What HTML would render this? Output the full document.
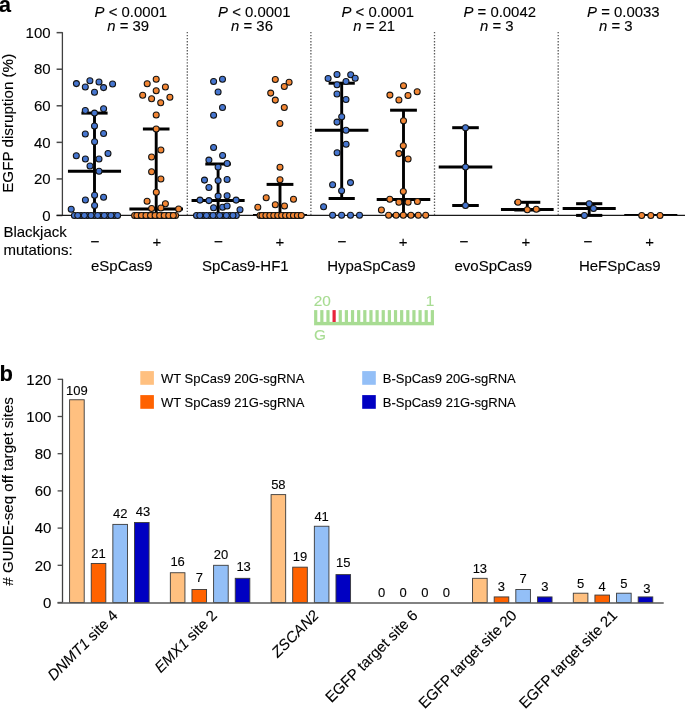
<!DOCTYPE html>
<html><head><meta charset="utf-8"><style>
html,body{margin:0;padding:0;background:#fff;}
body{width:685px;height:709px;overflow:hidden;font-family:"Liberation Sans",sans-serif;}
svg{display:block;will-change:transform;}
text{stroke:#000;stroke-width:0.12px;}
</style></head><body>
<svg width="685" height="709" viewBox="0 0 685 709">
<text x="-1.2" y="12" font-family="Liberation Sans" font-size="22" font-weight="bold">a</text>
<line x1="62.4" y1="32.15" x2="62.4" y2="215.5" stroke="#404040" stroke-width="1.3"/>
<line x1="56.6" y1="215.50" x2="62.4" y2="215.50" stroke="#4a4a4a" stroke-width="1.5"/>
<text x="50.6" y="220.70" font-family="Liberation Sans" font-size="15" text-anchor="end">0</text>
<line x1="56.6" y1="178.93" x2="62.4" y2="178.93" stroke="#4a4a4a" stroke-width="1.5"/>
<text x="50.6" y="184.13" font-family="Liberation Sans" font-size="15" text-anchor="end">20</text>
<line x1="56.6" y1="142.36" x2="62.4" y2="142.36" stroke="#4a4a4a" stroke-width="1.5"/>
<text x="50.6" y="147.56" font-family="Liberation Sans" font-size="15" text-anchor="end">40</text>
<line x1="56.6" y1="105.79" x2="62.4" y2="105.79" stroke="#4a4a4a" stroke-width="1.5"/>
<text x="50.6" y="110.99" font-family="Liberation Sans" font-size="15" text-anchor="end">60</text>
<line x1="56.6" y1="69.22" x2="62.4" y2="69.22" stroke="#4a4a4a" stroke-width="1.5"/>
<text x="50.6" y="74.42" font-family="Liberation Sans" font-size="15" text-anchor="end">80</text>
<line x1="56.6" y1="32.65" x2="62.4" y2="32.65" stroke="#4a4a4a" stroke-width="1.5"/>
<text x="50.6" y="37.85" font-family="Liberation Sans" font-size="15" text-anchor="end">100</text>
<line x1="56.6" y1="215.45" x2="685" y2="215.45" stroke="#1a1a1a" stroke-width="1.2"/>
<text transform="translate(12.6,123.3) rotate(-90)" font-family="Liberation Sans" font-size="15.2" text-anchor="middle">EGFP disruption (%)</text>
<line x1="187.3" y1="31.9" x2="187.3" y2="215.5" stroke="#5a5a5a" stroke-width="1.3" stroke-dasharray="1.4 1.63"/>
<line x1="310.9" y1="31.9" x2="310.9" y2="215.5" stroke="#5a5a5a" stroke-width="1.3" stroke-dasharray="1.4 1.63"/>
<line x1="434.5" y1="31.9" x2="434.5" y2="215.5" stroke="#5a5a5a" stroke-width="1.3" stroke-dasharray="1.4 1.63"/>
<line x1="558.2" y1="31.9" x2="558.2" y2="215.5" stroke="#5a5a5a" stroke-width="1.3" stroke-dasharray="1.4 1.63"/>
<text x="94.6" y="16.6" font-family="Liberation Sans" font-size="14.9"><tspan font-style="italic">P</tspan> &lt; 0.0001</text>
<text x="107.3" y="31.4" font-family="Liberation Sans" font-size="14.9"><tspan font-style="italic">n</tspan> = 39</text>
<text x="218.1" y="16.6" font-family="Liberation Sans" font-size="14.9"><tspan font-style="italic">P</tspan> &lt; 0.0001</text>
<text x="231.1" y="31.4" font-family="Liberation Sans" font-size="14.9"><tspan font-style="italic">n</tspan> = 36</text>
<text x="341.5" y="16.6" font-family="Liberation Sans" font-size="14.9"><tspan font-style="italic">P</tspan> &lt; 0.0001</text>
<text x="353.3" y="31.4" font-family="Liberation Sans" font-size="14.9"><tspan font-style="italic">n</tspan> = 21</text>
<text x="463.5" y="16.6" font-family="Liberation Sans" font-size="14.9"><tspan font-style="italic">P</tspan> = 0.0042</text>
<text x="480.0" y="31.4" font-family="Liberation Sans" font-size="14.9"><tspan font-style="italic">n</tspan> = 3</text>
<text x="587.1" y="16.6" font-family="Liberation Sans" font-size="14.9"><tspan font-style="italic">P</tspan> = 0.0033</text>
<text x="599.1" y="31.4" font-family="Liberation Sans" font-size="14.9"><tspan font-style="italic">n</tspan> = 3</text>
<line x1="94.5" y1="113.1" x2="94.5" y2="215.3" stroke="#000" stroke-width="2.9"/><line x1="81.4" y1="113.1" x2="107.6" y2="113.1" stroke="#000" stroke-width="3.0"/><line x1="81.4" y1="215.3" x2="107.6" y2="215.3" stroke="#000" stroke-width="3.0"/><line x1="67.95" y1="171.3" x2="121.05" y2="171.3" stroke="#000" stroke-width="3.0"/>
<line x1="156.2" y1="129.0" x2="156.2" y2="215.3" stroke="#000" stroke-width="2.9"/><line x1="142.89999999999998" y1="129.0" x2="169.5" y2="129.0" stroke="#000" stroke-width="3.0"/><line x1="142.89999999999998" y1="215.3" x2="169.5" y2="215.3" stroke="#000" stroke-width="3.0"/><line x1="129.39999999999998" y1="208.9" x2="183.0" y2="208.9" stroke="#000" stroke-width="3.0"/>
<line x1="218.1" y1="164.0" x2="218.1" y2="215.3" stroke="#000" stroke-width="2.9"/><line x1="205.29999999999998" y1="164.0" x2="230.9" y2="164.0" stroke="#000" stroke-width="3.0"/><line x1="205.29999999999998" y1="215.3" x2="230.9" y2="215.3" stroke="#000" stroke-width="3.0"/><line x1="191.54999999999998" y1="200.4" x2="244.65" y2="200.4" stroke="#000" stroke-width="3.0"/>
<line x1="280.0" y1="184.4" x2="280.0" y2="215.3" stroke="#000" stroke-width="2.9"/><line x1="266.6" y1="184.4" x2="293.4" y2="184.4" stroke="#000" stroke-width="3.0"/><line x1="266.6" y1="215.3" x2="293.4" y2="215.3" stroke="#000" stroke-width="3.0"/><line x1="253.0" y1="214.7" x2="307.0" y2="214.7" stroke="#000" stroke-width="1.6"/>
<line x1="341.7" y1="83.2" x2="341.7" y2="198.5" stroke="#000" stroke-width="2.9"/><line x1="328.59999999999997" y1="83.2" x2="354.8" y2="83.2" stroke="#000" stroke-width="3.0"/><line x1="328.59999999999997" y1="198.5" x2="354.8" y2="198.5" stroke="#000" stroke-width="3.0"/><line x1="315.0" y1="130.3" x2="368.4" y2="130.3" stroke="#000" stroke-width="3.0"/>
<line x1="403.5" y1="110.2" x2="403.5" y2="215.3" stroke="#000" stroke-width="2.9"/><line x1="390.1" y1="110.2" x2="416.9" y2="110.2" stroke="#000" stroke-width="3.0"/><line x1="390.1" y1="215.3" x2="416.9" y2="215.3" stroke="#000" stroke-width="3.0"/><line x1="376.7" y1="199.5" x2="430.3" y2="199.5" stroke="#000" stroke-width="3.0"/>
<line x1="465.5" y1="127.7" x2="465.5" y2="205.5" stroke="#000" stroke-width="2.9"/><line x1="452.2" y1="127.7" x2="478.8" y2="127.7" stroke="#000" stroke-width="3.0"/><line x1="452.2" y1="205.5" x2="478.8" y2="205.5" stroke="#000" stroke-width="3.0"/><line x1="438.7" y1="166.9" x2="492.3" y2="166.9" stroke="#000" stroke-width="3.0"/>
<line x1="527.3" y1="202.3" x2="527.3" y2="210.0" stroke="#000" stroke-width="2.9"/><line x1="514.3" y1="202.3" x2="540.3" y2="202.3" stroke="#000" stroke-width="3.0"/><line x1="514.3" y1="210.0" x2="540.3" y2="210.0" stroke="#000" stroke-width="3.0"/><line x1="500.94999999999993" y1="209.4" x2="553.65" y2="209.4" stroke="#000" stroke-width="3.0"/>
<line x1="589.2" y1="203.7" x2="589.2" y2="215.4" stroke="#000" stroke-width="2.9"/><line x1="576.1" y1="203.7" x2="602.3000000000001" y2="203.7" stroke="#000" stroke-width="3.0"/><line x1="576.1" y1="215.4" x2="602.3000000000001" y2="215.4" stroke="#000" stroke-width="3.0"/><line x1="562.6500000000001" y1="208.4" x2="615.75" y2="208.4" stroke="#000" stroke-width="3.0"/>
<line x1="650.8" y1="214.7" x2="650.8" y2="214.7" stroke="#000" stroke-width="2.9"/><line x1="650.8" y1="214.7" x2="650.8" y2="214.7" stroke="#000" stroke-width="3.0"/><line x1="650.8" y1="214.7" x2="650.8" y2="214.7" stroke="#000" stroke-width="3.0"/><line x1="624.25" y1="214.7" x2="677.3499999999999" y2="214.7" stroke="#000" stroke-width="1.6"/>
<circle cx="76.40" cy="83.60" r="3.0" fill="#4676d0" stroke="#141414" stroke-width="1.05"/><circle cx="85.30" cy="86.90" r="3.0" fill="#4676d0" stroke="#141414" stroke-width="1.05"/><circle cx="89.90" cy="80.70" r="3.0" fill="#4676d0" stroke="#141414" stroke-width="1.05"/><circle cx="94.50" cy="92.30" r="3.0" fill="#4676d0" stroke="#141414" stroke-width="1.05"/><circle cx="99.00" cy="82.00" r="3.0" fill="#4676d0" stroke="#141414" stroke-width="1.05"/><circle cx="103.60" cy="87.60" r="3.0" fill="#4676d0" stroke="#141414" stroke-width="1.05"/><circle cx="112.60" cy="84.00" r="3.0" fill="#4676d0" stroke="#141414" stroke-width="1.05"/><circle cx="85.30" cy="110.40" r="3.0" fill="#4676d0" stroke="#141414" stroke-width="1.05"/><circle cx="94.50" cy="113.10" r="3.0" fill="#4676d0" stroke="#141414" stroke-width="1.05"/><circle cx="103.60" cy="108.80" r="3.0" fill="#4676d0" stroke="#141414" stroke-width="1.05"/><circle cx="94.50" cy="126.00" r="3.0" fill="#4676d0" stroke="#141414" stroke-width="1.05"/><circle cx="85.30" cy="133.90" r="3.0" fill="#4676d0" stroke="#141414" stroke-width="1.05"/><circle cx="103.60" cy="133.40" r="3.0" fill="#4676d0" stroke="#141414" stroke-width="1.05"/><circle cx="94.60" cy="141.70" r="3.0" fill="#4676d0" stroke="#141414" stroke-width="1.05"/><circle cx="76.30" cy="155.80" r="3.0" fill="#4676d0" stroke="#141414" stroke-width="1.05"/><circle cx="85.40" cy="159.00" r="3.0" fill="#4676d0" stroke="#141414" stroke-width="1.05"/><circle cx="99.00" cy="159.00" r="3.0" fill="#4676d0" stroke="#141414" stroke-width="1.05"/><circle cx="108.00" cy="153.40" r="3.0" fill="#4676d0" stroke="#141414" stroke-width="1.05"/><circle cx="90.00" cy="166.00" r="3.0" fill="#4676d0" stroke="#141414" stroke-width="1.05"/><circle cx="99.00" cy="171.30" r="3.0" fill="#4676d0" stroke="#141414" stroke-width="1.05"/><circle cx="94.60" cy="195.20" r="3.0" fill="#4676d0" stroke="#141414" stroke-width="1.05"/><circle cx="103.60" cy="197.30" r="3.0" fill="#4676d0" stroke="#141414" stroke-width="1.05"/><circle cx="85.40" cy="199.90" r="3.0" fill="#4676d0" stroke="#141414" stroke-width="1.05"/><circle cx="94.60" cy="205.50" r="3.0" fill="#4676d0" stroke="#141414" stroke-width="1.05"/><circle cx="71.20" cy="209.30" r="3.0" fill="#4676d0" stroke="#141414" stroke-width="1.05"/><circle cx="74.40" cy="215.40" r="3.0" fill="#4676d0" stroke="#141414" stroke-width="1.05"/><circle cx="81.05" cy="215.40" r="3.0" fill="#4676d0" stroke="#141414" stroke-width="1.05"/><circle cx="87.69" cy="215.40" r="3.0" fill="#4676d0" stroke="#141414" stroke-width="1.05"/><circle cx="94.34" cy="215.40" r="3.0" fill="#4676d0" stroke="#141414" stroke-width="1.05"/><circle cx="100.98" cy="215.40" r="3.0" fill="#4676d0" stroke="#141414" stroke-width="1.05"/><circle cx="107.63" cy="215.40" r="3.0" fill="#4676d0" stroke="#141414" stroke-width="1.05"/><circle cx="114.28" cy="215.40" r="3.0" fill="#4676d0" stroke="#141414" stroke-width="1.05"/><circle cx="77.72" cy="215.40" r="3.0" fill="#4676d0" stroke="#141414" stroke-width="1.05"/><circle cx="84.37" cy="215.40" r="3.0" fill="#4676d0" stroke="#141414" stroke-width="1.05"/><circle cx="91.02" cy="215.40" r="3.0" fill="#4676d0" stroke="#141414" stroke-width="1.05"/><circle cx="97.66" cy="215.40" r="3.0" fill="#4676d0" stroke="#141414" stroke-width="1.05"/><circle cx="104.31" cy="215.40" r="3.0" fill="#4676d0" stroke="#141414" stroke-width="1.05"/><circle cx="110.95" cy="215.40" r="3.0" fill="#4676d0" stroke="#141414" stroke-width="1.05"/><circle cx="117.60" cy="215.40" r="3.0" fill="#4676d0" stroke="#141414" stroke-width="1.05"/>
<circle cx="156.20" cy="79.20" r="3.0" fill="#f28634" stroke="#141414" stroke-width="1.05"/><circle cx="147.20" cy="83.70" r="3.0" fill="#f28634" stroke="#141414" stroke-width="1.05"/><circle cx="165.40" cy="86.90" r="3.0" fill="#f28634" stroke="#141414" stroke-width="1.05"/><circle cx="156.20" cy="90.80" r="3.0" fill="#f28634" stroke="#141414" stroke-width="1.05"/><circle cx="142.70" cy="95.20" r="3.0" fill="#f28634" stroke="#141414" stroke-width="1.05"/><circle cx="151.60" cy="98.80" r="3.0" fill="#f28634" stroke="#141414" stroke-width="1.05"/><circle cx="169.90" cy="97.20" r="3.0" fill="#f28634" stroke="#141414" stroke-width="1.05"/><circle cx="160.70" cy="102.80" r="3.0" fill="#f28634" stroke="#141414" stroke-width="1.05"/><circle cx="156.20" cy="114.90" r="3.0" fill="#f28634" stroke="#141414" stroke-width="1.05"/><circle cx="156.20" cy="129.00" r="3.0" fill="#f28634" stroke="#141414" stroke-width="1.05"/><circle cx="160.90" cy="149.90" r="3.0" fill="#f28634" stroke="#141414" stroke-width="1.05"/><circle cx="151.60" cy="156.90" r="3.0" fill="#f28634" stroke="#141414" stroke-width="1.05"/><circle cx="151.60" cy="171.80" r="3.0" fill="#f28634" stroke="#141414" stroke-width="1.05"/><circle cx="160.90" cy="179.00" r="3.0" fill="#f28634" stroke="#141414" stroke-width="1.05"/><circle cx="156.30" cy="192.20" r="3.0" fill="#f28634" stroke="#141414" stroke-width="1.05"/><circle cx="147.10" cy="201.30" r="3.0" fill="#f28634" stroke="#141414" stroke-width="1.05"/><circle cx="165.40" cy="203.80" r="3.0" fill="#f28634" stroke="#141414" stroke-width="1.05"/><circle cx="151.60" cy="208.50" r="3.0" fill="#f28634" stroke="#141414" stroke-width="1.05"/><circle cx="160.90" cy="208.00" r="3.0" fill="#f28634" stroke="#141414" stroke-width="1.05"/><circle cx="178.60" cy="208.90" r="3.0" fill="#f28634" stroke="#141414" stroke-width="1.05"/><circle cx="134.60" cy="215.40" r="3.0" fill="#f28634" stroke="#141414" stroke-width="1.05"/><circle cx="139.16" cy="215.40" r="3.0" fill="#f28634" stroke="#141414" stroke-width="1.05"/><circle cx="143.71" cy="215.40" r="3.0" fill="#f28634" stroke="#141414" stroke-width="1.05"/><circle cx="148.27" cy="215.40" r="3.0" fill="#f28634" stroke="#141414" stroke-width="1.05"/><circle cx="152.82" cy="215.40" r="3.0" fill="#f28634" stroke="#141414" stroke-width="1.05"/><circle cx="157.38" cy="215.40" r="3.0" fill="#f28634" stroke="#141414" stroke-width="1.05"/><circle cx="161.93" cy="215.40" r="3.0" fill="#f28634" stroke="#141414" stroke-width="1.05"/><circle cx="166.49" cy="215.40" r="3.0" fill="#f28634" stroke="#141414" stroke-width="1.05"/><circle cx="171.04" cy="215.40" r="3.0" fill="#f28634" stroke="#141414" stroke-width="1.05"/><circle cx="175.60" cy="215.40" r="3.0" fill="#f28634" stroke="#141414" stroke-width="1.05"/><circle cx="136.88" cy="215.40" r="3.0" fill="#f28634" stroke="#141414" stroke-width="1.05"/><circle cx="141.43" cy="215.40" r="3.0" fill="#f28634" stroke="#141414" stroke-width="1.05"/><circle cx="145.99" cy="215.40" r="3.0" fill="#f28634" stroke="#141414" stroke-width="1.05"/><circle cx="150.54" cy="215.40" r="3.0" fill="#f28634" stroke="#141414" stroke-width="1.05"/><circle cx="155.10" cy="215.40" r="3.0" fill="#f28634" stroke="#141414" stroke-width="1.05"/><circle cx="159.66" cy="215.40" r="3.0" fill="#f28634" stroke="#141414" stroke-width="1.05"/><circle cx="164.21" cy="215.40" r="3.0" fill="#f28634" stroke="#141414" stroke-width="1.05"/><circle cx="168.77" cy="215.40" r="3.0" fill="#f28634" stroke="#141414" stroke-width="1.05"/><circle cx="173.32" cy="215.40" r="3.0" fill="#f28634" stroke="#141414" stroke-width="1.05"/>
<circle cx="213.60" cy="81.40" r="3.0" fill="#4676d0" stroke="#141414" stroke-width="1.05"/><circle cx="222.50" cy="79.20" r="3.0" fill="#4676d0" stroke="#141414" stroke-width="1.05"/><circle cx="218.10" cy="92.00" r="3.0" fill="#4676d0" stroke="#141414" stroke-width="1.05"/><circle cx="222.50" cy="107.50" r="3.0" fill="#4676d0" stroke="#141414" stroke-width="1.05"/><circle cx="213.60" cy="115.30" r="3.0" fill="#4676d0" stroke="#141414" stroke-width="1.05"/><circle cx="213.60" cy="147.50" r="3.0" fill="#4676d0" stroke="#141414" stroke-width="1.05"/><circle cx="222.60" cy="155.50" r="3.0" fill="#4676d0" stroke="#141414" stroke-width="1.05"/><circle cx="208.90" cy="160.10" r="3.0" fill="#4676d0" stroke="#141414" stroke-width="1.05"/><circle cx="227.10" cy="163.50" r="3.0" fill="#4676d0" stroke="#141414" stroke-width="1.05"/><circle cx="218.10" cy="167.10" r="3.0" fill="#4676d0" stroke="#141414" stroke-width="1.05"/><circle cx="204.50" cy="180.10" r="3.0" fill="#4676d0" stroke="#141414" stroke-width="1.05"/><circle cx="218.10" cy="180.60" r="3.0" fill="#4676d0" stroke="#141414" stroke-width="1.05"/><circle cx="227.10" cy="179.50" r="3.0" fill="#4676d0" stroke="#141414" stroke-width="1.05"/><circle cx="208.90" cy="187.40" r="3.0" fill="#4676d0" stroke="#141414" stroke-width="1.05"/><circle cx="218.10" cy="196.10" r="3.0" fill="#4676d0" stroke="#141414" stroke-width="1.05"/><circle cx="227.10" cy="195.70" r="3.0" fill="#4676d0" stroke="#141414" stroke-width="1.05"/><circle cx="200.00" cy="200.10" r="3.0" fill="#4676d0" stroke="#141414" stroke-width="1.05"/><circle cx="208.90" cy="200.60" r="3.0" fill="#4676d0" stroke="#141414" stroke-width="1.05"/><circle cx="236.10" cy="200.10" r="3.0" fill="#4676d0" stroke="#141414" stroke-width="1.05"/><circle cx="213.60" cy="207.70" r="3.0" fill="#4676d0" stroke="#141414" stroke-width="1.05"/><circle cx="222.60" cy="207.20" r="3.0" fill="#4676d0" stroke="#141414" stroke-width="1.05"/><circle cx="227.10" cy="206.00" r="3.0" fill="#4676d0" stroke="#141414" stroke-width="1.05"/><circle cx="240.00" cy="209.70" r="3.0" fill="#4676d0" stroke="#141414" stroke-width="1.05"/><circle cx="196.50" cy="215.40" r="3.0" fill="#4676d0" stroke="#141414" stroke-width="1.05"/><circle cx="203.13" cy="215.40" r="3.0" fill="#4676d0" stroke="#141414" stroke-width="1.05"/><circle cx="209.77" cy="215.40" r="3.0" fill="#4676d0" stroke="#141414" stroke-width="1.05"/><circle cx="216.40" cy="215.40" r="3.0" fill="#4676d0" stroke="#141414" stroke-width="1.05"/><circle cx="223.03" cy="215.40" r="3.0" fill="#4676d0" stroke="#141414" stroke-width="1.05"/><circle cx="229.67" cy="215.40" r="3.0" fill="#4676d0" stroke="#141414" stroke-width="1.05"/><circle cx="236.30" cy="215.40" r="3.0" fill="#4676d0" stroke="#141414" stroke-width="1.05"/><circle cx="199.82" cy="215.40" r="3.0" fill="#4676d0" stroke="#141414" stroke-width="1.05"/><circle cx="206.45" cy="215.40" r="3.0" fill="#4676d0" stroke="#141414" stroke-width="1.05"/><circle cx="213.08" cy="215.40" r="3.0" fill="#4676d0" stroke="#141414" stroke-width="1.05"/><circle cx="219.72" cy="215.40" r="3.0" fill="#4676d0" stroke="#141414" stroke-width="1.05"/><circle cx="226.35" cy="215.40" r="3.0" fill="#4676d0" stroke="#141414" stroke-width="1.05"/><circle cx="232.98" cy="215.40" r="3.0" fill="#4676d0" stroke="#141414" stroke-width="1.05"/>
<circle cx="275.30" cy="79.50" r="3.0" fill="#f28634" stroke="#141414" stroke-width="1.05"/><circle cx="289.10" cy="82.20" r="3.0" fill="#f28634" stroke="#141414" stroke-width="1.05"/><circle cx="284.30" cy="86.40" r="3.0" fill="#f28634" stroke="#141414" stroke-width="1.05"/><circle cx="270.70" cy="93.10" r="3.0" fill="#f28634" stroke="#141414" stroke-width="1.05"/><circle cx="275.30" cy="100.10" r="3.0" fill="#f28634" stroke="#141414" stroke-width="1.05"/><circle cx="284.30" cy="107.50" r="3.0" fill="#f28634" stroke="#141414" stroke-width="1.05"/><circle cx="279.90" cy="123.40" r="3.0" fill="#f28634" stroke="#141414" stroke-width="1.05"/><circle cx="280.00" cy="167.30" r="3.0" fill="#f28634" stroke="#141414" stroke-width="1.05"/><circle cx="280.00" cy="179.70" r="3.0" fill="#f28634" stroke="#141414" stroke-width="1.05"/><circle cx="266.20" cy="197.80" r="3.0" fill="#f28634" stroke="#141414" stroke-width="1.05"/><circle cx="293.50" cy="199.30" r="3.0" fill="#f28634" stroke="#141414" stroke-width="1.05"/><circle cx="257.80" cy="207.20" r="3.0" fill="#f28634" stroke="#141414" stroke-width="1.05"/><circle cx="275.30" cy="204.70" r="3.0" fill="#f28634" stroke="#141414" stroke-width="1.05"/><circle cx="284.50" cy="206.00" r="3.0" fill="#f28634" stroke="#141414" stroke-width="1.05"/><circle cx="260.00" cy="215.40" r="3.0" fill="#f28634" stroke="#141414" stroke-width="1.05"/><circle cx="263.93" cy="215.40" r="3.0" fill="#f28634" stroke="#141414" stroke-width="1.05"/><circle cx="267.87" cy="215.40" r="3.0" fill="#f28634" stroke="#141414" stroke-width="1.05"/><circle cx="271.80" cy="215.40" r="3.0" fill="#f28634" stroke="#141414" stroke-width="1.05"/><circle cx="275.73" cy="215.40" r="3.0" fill="#f28634" stroke="#141414" stroke-width="1.05"/><circle cx="279.67" cy="215.40" r="3.0" fill="#f28634" stroke="#141414" stroke-width="1.05"/><circle cx="283.60" cy="215.40" r="3.0" fill="#f28634" stroke="#141414" stroke-width="1.05"/><circle cx="287.53" cy="215.40" r="3.0" fill="#f28634" stroke="#141414" stroke-width="1.05"/><circle cx="291.47" cy="215.40" r="3.0" fill="#f28634" stroke="#141414" stroke-width="1.05"/><circle cx="295.40" cy="215.40" r="3.0" fill="#f28634" stroke="#141414" stroke-width="1.05"/><circle cx="299.33" cy="215.40" r="3.0" fill="#f28634" stroke="#141414" stroke-width="1.05"/><circle cx="261.97" cy="215.40" r="3.0" fill="#f28634" stroke="#141414" stroke-width="1.05"/><circle cx="265.90" cy="215.40" r="3.0" fill="#f28634" stroke="#141414" stroke-width="1.05"/><circle cx="269.83" cy="215.40" r="3.0" fill="#f28634" stroke="#141414" stroke-width="1.05"/><circle cx="273.77" cy="215.40" r="3.0" fill="#f28634" stroke="#141414" stroke-width="1.05"/><circle cx="277.70" cy="215.40" r="3.0" fill="#f28634" stroke="#141414" stroke-width="1.05"/><circle cx="281.63" cy="215.40" r="3.0" fill="#f28634" stroke="#141414" stroke-width="1.05"/><circle cx="285.57" cy="215.40" r="3.0" fill="#f28634" stroke="#141414" stroke-width="1.05"/><circle cx="289.50" cy="215.40" r="3.0" fill="#f28634" stroke="#141414" stroke-width="1.05"/><circle cx="293.43" cy="215.40" r="3.0" fill="#f28634" stroke="#141414" stroke-width="1.05"/><circle cx="297.37" cy="215.40" r="3.0" fill="#f28634" stroke="#141414" stroke-width="1.05"/><circle cx="301.30" cy="215.40" r="3.0" fill="#f28634" stroke="#141414" stroke-width="1.05"/>
<circle cx="337.00" cy="74.50" r="3.0" fill="#4676d0" stroke="#141414" stroke-width="1.05"/><circle cx="350.70" cy="74.80" r="3.0" fill="#4676d0" stroke="#141414" stroke-width="1.05"/><circle cx="328.10" cy="78.50" r="3.0" fill="#4676d0" stroke="#141414" stroke-width="1.05"/><circle cx="355.20" cy="78.20" r="3.0" fill="#4676d0" stroke="#141414" stroke-width="1.05"/><circle cx="346.00" cy="81.40" r="3.0" fill="#4676d0" stroke="#141414" stroke-width="1.05"/><circle cx="337.00" cy="84.80" r="3.0" fill="#4676d0" stroke="#141414" stroke-width="1.05"/><circle cx="337.00" cy="93.90" r="3.0" fill="#4676d0" stroke="#141414" stroke-width="1.05"/><circle cx="346.00" cy="99.40" r="3.0" fill="#4676d0" stroke="#141414" stroke-width="1.05"/><circle cx="341.70" cy="116.80" r="3.0" fill="#4676d0" stroke="#141414" stroke-width="1.05"/><circle cx="337.00" cy="122.10" r="3.0" fill="#4676d0" stroke="#141414" stroke-width="1.05"/><circle cx="346.00" cy="130.30" r="3.0" fill="#4676d0" stroke="#141414" stroke-width="1.05"/><circle cx="346.10" cy="144.30" r="3.0" fill="#4676d0" stroke="#141414" stroke-width="1.05"/><circle cx="337.10" cy="152.70" r="3.0" fill="#4676d0" stroke="#141414" stroke-width="1.05"/><circle cx="332.60" cy="184.70" r="3.0" fill="#4676d0" stroke="#141414" stroke-width="1.05"/><circle cx="350.50" cy="182.60" r="3.0" fill="#4676d0" stroke="#141414" stroke-width="1.05"/><circle cx="341.60" cy="190.70" r="3.0" fill="#4676d0" stroke="#141414" stroke-width="1.05"/><circle cx="323.60" cy="206.70" r="3.0" fill="#4676d0" stroke="#141414" stroke-width="1.05"/><circle cx="332.60" cy="215.30" r="3.0" fill="#4676d0" stroke="#141414" stroke-width="1.05"/><circle cx="341.60" cy="215.30" r="3.0" fill="#4676d0" stroke="#141414" stroke-width="1.05"/><circle cx="350.50" cy="215.30" r="3.0" fill="#4676d0" stroke="#141414" stroke-width="1.05"/><circle cx="359.50" cy="215.30" r="3.0" fill="#4676d0" stroke="#141414" stroke-width="1.05"/>
<circle cx="403.50" cy="85.80" r="3.0" fill="#f28634" stroke="#141414" stroke-width="1.05"/><circle cx="389.90" cy="95.10" r="3.0" fill="#f28634" stroke="#141414" stroke-width="1.05"/><circle cx="398.90" cy="100.00" r="3.0" fill="#f28634" stroke="#141414" stroke-width="1.05"/><circle cx="408.00" cy="95.40" r="3.0" fill="#f28634" stroke="#141414" stroke-width="1.05"/><circle cx="417.20" cy="91.80" r="3.0" fill="#f28634" stroke="#141414" stroke-width="1.05"/><circle cx="403.50" cy="120.80" r="3.0" fill="#f28634" stroke="#141414" stroke-width="1.05"/><circle cx="403.30" cy="145.80" r="3.0" fill="#f28634" stroke="#141414" stroke-width="1.05"/><circle cx="398.90" cy="153.60" r="3.0" fill="#f28634" stroke="#141414" stroke-width="1.05"/><circle cx="408.10" cy="159.00" r="3.0" fill="#f28634" stroke="#141414" stroke-width="1.05"/><circle cx="403.30" cy="191.50" r="3.0" fill="#f28634" stroke="#141414" stroke-width="1.05"/><circle cx="389.80" cy="199.30" r="3.0" fill="#f28634" stroke="#141414" stroke-width="1.05"/><circle cx="398.90" cy="202.30" r="3.0" fill="#f28634" stroke="#141414" stroke-width="1.05"/><circle cx="408.10" cy="202.30" r="3.0" fill="#f28634" stroke="#141414" stroke-width="1.05"/><circle cx="417.40" cy="201.50" r="3.0" fill="#f28634" stroke="#141414" stroke-width="1.05"/><circle cx="381.40" cy="209.90" r="3.0" fill="#f28634" stroke="#141414" stroke-width="1.05"/><circle cx="388.60" cy="215.30" r="3.0" fill="#f28634" stroke="#141414" stroke-width="1.05"/><circle cx="396.10" cy="215.30" r="3.0" fill="#f28634" stroke="#141414" stroke-width="1.05"/><circle cx="403.30" cy="215.30" r="3.0" fill="#f28634" stroke="#141414" stroke-width="1.05"/><circle cx="410.90" cy="215.30" r="3.0" fill="#f28634" stroke="#141414" stroke-width="1.05"/><circle cx="418.30" cy="215.30" r="3.0" fill="#f28634" stroke="#141414" stroke-width="1.05"/><circle cx="425.70" cy="215.30" r="3.0" fill="#f28634" stroke="#141414" stroke-width="1.05"/>
<circle cx="465.50" cy="127.70" r="3.0" fill="#4676d0" stroke="#141414" stroke-width="1.05"/><circle cx="465.50" cy="166.90" r="3.0" fill="#4676d0" stroke="#141414" stroke-width="1.05"/><circle cx="465.50" cy="205.50" r="3.0" fill="#4676d0" stroke="#141414" stroke-width="1.05"/>
<circle cx="518.00" cy="202.30" r="3.0" fill="#f28634" stroke="#141414" stroke-width="1.05"/><circle cx="527.30" cy="209.70" r="3.0" fill="#f28634" stroke="#141414" stroke-width="1.05"/><circle cx="536.30" cy="209.20" r="3.0" fill="#f28634" stroke="#141414" stroke-width="1.05"/>
<circle cx="589.20" cy="203.70" r="3.0" fill="#4676d0" stroke="#141414" stroke-width="1.05"/><circle cx="593.50" cy="208.40" r="3.0" fill="#4676d0" stroke="#141414" stroke-width="1.05"/><circle cx="584.40" cy="215.40" r="3.0" fill="#4676d0" stroke="#141414" stroke-width="1.05"/>
<circle cx="641.70" cy="215.40" r="3.0" fill="#f28634" stroke="#141414" stroke-width="1.05"/><circle cx="650.80" cy="215.40" r="3.0" fill="#f28634" stroke="#141414" stroke-width="1.05"/><circle cx="660.00" cy="215.40" r="3.0" fill="#f28634" stroke="#141414" stroke-width="1.05"/>
<text x="3.4" y="236.5" font-family="Liberation Sans" font-size="15">Blackjack</text>
<text x="3.4" y="255.0" font-family="Liberation Sans" font-size="15">mutations:</text>
<text x="94.7" y="246.7" font-family="Liberation Sans" font-size="15.5" text-anchor="middle">−</text>
<text x="218.3" y="246.7" font-family="Liberation Sans" font-size="15.5" text-anchor="middle">−</text>
<text x="341.8" y="246.7" font-family="Liberation Sans" font-size="15.5" text-anchor="middle">−</text>
<text x="463.9" y="246.7" font-family="Liberation Sans" font-size="15.5" text-anchor="middle">−</text>
<text x="587.9" y="246.7" font-family="Liberation Sans" font-size="15.5" text-anchor="middle">−</text>
<text x="157.0" y="246.5" font-family="Liberation Sans" font-size="15" text-anchor="middle">+</text>
<text x="279.8" y="246.5" font-family="Liberation Sans" font-size="15" text-anchor="middle">+</text>
<text x="403.2" y="246.5" font-family="Liberation Sans" font-size="15" text-anchor="middle">+</text>
<text x="525.9" y="246.5" font-family="Liberation Sans" font-size="15" text-anchor="middle">+</text>
<text x="649.7" y="246.5" font-family="Liberation Sans" font-size="15" text-anchor="middle">+</text>
<text x="91.0" y="271.0" font-family="Liberation Sans" font-size="15">eSpCas9</text>
<text x="202.0" y="271.0" font-family="Liberation Sans" font-size="15">SpCas9-HF1</text>
<text x="327.2" y="271.0" font-family="Liberation Sans" font-size="15">HypaSpCas9</text>
<text x="454.5" y="271.0" font-family="Liberation Sans" font-size="15">evoSpCas9</text>
<text x="578.9" y="271.0" font-family="Liberation Sans" font-size="15">HeFSpCas9</text>
<text x="313.7" y="305.8" font-family="Liberation Sans" font-size="15.4" fill="#a8dc93" stroke="#a8dc93" style="stroke:#a8dc93">20</text>
<text x="434.4" y="305.8" font-family="Liberation Sans" font-size="15.4" fill="#a8dc93" stroke="#a8dc93" style="stroke:#a8dc93" text-anchor="end">1</text>
<text x="313.9" y="340.4" font-family="Liberation Sans" font-size="15.4" fill="#a8dc93" stroke="#a8dc93" style="stroke:#a8dc93">G</text>
<rect x="314.1" y="321.9" width="119.9" height="3.4" fill="#a8dc93"/>
<rect x="314.10" y="310.1" width="3.2" height="11.9" fill="#a8dc93"/>
<rect x="320.24" y="310.1" width="3.2" height="11.9" fill="#a8dc93"/>
<rect x="326.38" y="310.1" width="3.2" height="11.9" fill="#a8dc93"/>
<rect x="332.52" y="310.1" width="3.2" height="11.9" fill="#e8243c"/>
<rect x="338.66" y="310.1" width="3.2" height="11.9" fill="#a8dc93"/>
<rect x="344.80" y="310.1" width="3.2" height="11.9" fill="#a8dc93"/>
<rect x="350.94" y="310.1" width="3.2" height="11.9" fill="#a8dc93"/>
<rect x="357.08" y="310.1" width="3.2" height="11.9" fill="#a8dc93"/>
<rect x="363.22" y="310.1" width="3.2" height="11.9" fill="#a8dc93"/>
<rect x="369.36" y="310.1" width="3.2" height="11.9" fill="#a8dc93"/>
<rect x="375.50" y="310.1" width="3.2" height="11.9" fill="#a8dc93"/>
<rect x="381.64" y="310.1" width="3.2" height="11.9" fill="#a8dc93"/>
<rect x="387.78" y="310.1" width="3.2" height="11.9" fill="#a8dc93"/>
<rect x="393.92" y="310.1" width="3.2" height="11.9" fill="#a8dc93"/>
<rect x="400.06" y="310.1" width="3.2" height="11.9" fill="#a8dc93"/>
<rect x="406.20" y="310.1" width="3.2" height="11.9" fill="#a8dc93"/>
<rect x="412.34" y="310.1" width="3.2" height="11.9" fill="#a8dc93"/>
<rect x="418.48" y="310.1" width="3.2" height="11.9" fill="#a8dc93"/>
<rect x="424.62" y="310.1" width="3.2" height="11.9" fill="#a8dc93"/>
<rect x="430.76" y="310.1" width="3.2" height="11.9" fill="#a8dc93"/>
<text x="-0.4" y="381.2" font-family="Liberation Sans" font-size="22" font-weight="bold">b</text>
<line x1="62.5" y1="378.8" x2="62.5" y2="602.5" stroke="#404040" stroke-width="1.3"/>
<line x1="57.6" y1="602.50" x2="62.5" y2="602.50" stroke="#4a4a4a" stroke-width="1.3"/>
<text x="51.4" y="607.70" font-family="Liberation Sans" font-size="15" text-anchor="end">0</text>
<line x1="57.6" y1="565.30" x2="62.5" y2="565.30" stroke="#4a4a4a" stroke-width="1.3"/>
<text x="51.4" y="570.50" font-family="Liberation Sans" font-size="15" text-anchor="end">20</text>
<line x1="57.6" y1="528.10" x2="62.5" y2="528.10" stroke="#4a4a4a" stroke-width="1.3"/>
<text x="51.4" y="533.30" font-family="Liberation Sans" font-size="15" text-anchor="end">40</text>
<line x1="57.6" y1="490.90" x2="62.5" y2="490.90" stroke="#4a4a4a" stroke-width="1.3"/>
<text x="51.4" y="496.10" font-family="Liberation Sans" font-size="15" text-anchor="end">60</text>
<line x1="57.6" y1="453.70" x2="62.5" y2="453.70" stroke="#4a4a4a" stroke-width="1.3"/>
<text x="51.4" y="458.90" font-family="Liberation Sans" font-size="15" text-anchor="end">80</text>
<line x1="57.6" y1="416.50" x2="62.5" y2="416.50" stroke="#4a4a4a" stroke-width="1.3"/>
<text x="51.4" y="421.70" font-family="Liberation Sans" font-size="15" text-anchor="end">100</text>
<line x1="57.6" y1="379.30" x2="62.5" y2="379.30" stroke="#4a4a4a" stroke-width="1.3"/>
<text x="51.4" y="384.50" font-family="Liberation Sans" font-size="15" text-anchor="end">120</text>
<text transform="translate(12.9,491.4) rotate(-90)" font-family="Liberation Sans" font-size="15.1" text-anchor="middle"># GUIDE-seq off target sites</text>
<rect x="69.60" y="399.76" width="14.6" height="202.74" fill="#ffc080" stroke="#3a3a3a" stroke-width="0.9"/>
<text x="76.90" y="394.90" font-family="Liberation Sans" font-size="13" text-anchor="middle">109</text>
<rect x="91.23" y="563.44" width="14.6" height="39.06" fill="#ff6200" stroke="#3a3a3a" stroke-width="0.9"/>
<text x="98.53" y="557.90" font-family="Liberation Sans" font-size="13" text-anchor="middle">21</text>
<rect x="112.86" y="524.38" width="14.6" height="78.12" fill="#93bff7" stroke="#3a3a3a" stroke-width="0.9"/>
<text x="120.16" y="517.60" font-family="Liberation Sans" font-size="13" text-anchor="middle">42</text>
<rect x="134.49" y="522.52" width="14.6" height="79.98" fill="#0000c2" stroke="#3a3a3a" stroke-width="0.9"/>
<text x="143.09" y="515.70" font-family="Liberation Sans" font-size="13" text-anchor="middle">43</text>
<rect x="170.34" y="572.74" width="14.6" height="29.76" fill="#ffc080" stroke="#3a3a3a" stroke-width="0.9"/>
<text x="177.64" y="566.00" font-family="Liberation Sans" font-size="13" text-anchor="middle">16</text>
<rect x="191.97" y="589.48" width="14.6" height="13.02" fill="#ff6200" stroke="#3a3a3a" stroke-width="0.9"/>
<text x="199.27" y="581.80" font-family="Liberation Sans" font-size="13" text-anchor="middle">7</text>
<rect x="213.60" y="565.30" width="14.6" height="37.20" fill="#93bff7" stroke="#3a3a3a" stroke-width="0.9"/>
<text x="220.90" y="558.50" font-family="Liberation Sans" font-size="13" text-anchor="middle">20</text>
<rect x="235.23" y="578.32" width="14.6" height="24.18" fill="#0000c2" stroke="#3a3a3a" stroke-width="0.9"/>
<text x="243.63" y="570.60" font-family="Liberation Sans" font-size="13" text-anchor="middle">13</text>
<rect x="271.08" y="494.62" width="14.6" height="107.88" fill="#ffc080" stroke="#3a3a3a" stroke-width="0.9"/>
<text x="278.38" y="488.80" font-family="Liberation Sans" font-size="13" text-anchor="middle">58</text>
<rect x="292.71" y="567.16" width="14.6" height="35.34" fill="#ff6200" stroke="#3a3a3a" stroke-width="0.9"/>
<text x="300.01" y="561.00" font-family="Liberation Sans" font-size="13" text-anchor="middle">19</text>
<rect x="314.34" y="526.24" width="14.6" height="76.26" fill="#93bff7" stroke="#3a3a3a" stroke-width="0.9"/>
<text x="321.64" y="520.50" font-family="Liberation Sans" font-size="13" text-anchor="middle">41</text>
<rect x="335.97" y="574.60" width="14.6" height="27.90" fill="#0000c2" stroke="#3a3a3a" stroke-width="0.9"/>
<text x="343.27" y="567.40" font-family="Liberation Sans" font-size="13" text-anchor="middle">15</text>
<text x="381.52" y="597.20" font-family="Liberation Sans" font-size="13" text-anchor="middle">0</text>
<text x="403.15" y="597.20" font-family="Liberation Sans" font-size="13" text-anchor="middle">0</text>
<text x="424.78" y="597.20" font-family="Liberation Sans" font-size="13" text-anchor="middle">0</text>
<text x="446.41" y="597.20" font-family="Liberation Sans" font-size="13" text-anchor="middle">0</text>
<rect x="472.56" y="578.32" width="14.6" height="24.18" fill="#ffc080" stroke="#3a3a3a" stroke-width="0.9"/>
<text x="479.86" y="572.80" font-family="Liberation Sans" font-size="13" text-anchor="middle">13</text>
<rect x="494.19" y="596.92" width="14.6" height="5.58" fill="#ff6200" stroke="#3a3a3a" stroke-width="0.9"/>
<text x="501.49" y="590.80" font-family="Liberation Sans" font-size="13" text-anchor="middle">3</text>
<rect x="515.82" y="589.48" width="14.6" height="13.02" fill="#93bff7" stroke="#3a3a3a" stroke-width="0.9"/>
<text x="523.12" y="583.20" font-family="Liberation Sans" font-size="13" text-anchor="middle">7</text>
<rect x="537.45" y="596.92" width="14.6" height="5.58" fill="#0000c2" stroke="#3a3a3a" stroke-width="0.9"/>
<text x="544.75" y="590.80" font-family="Liberation Sans" font-size="13" text-anchor="middle">3</text>
<rect x="573.30" y="593.20" width="14.6" height="9.30" fill="#ffc080" stroke="#3a3a3a" stroke-width="0.9"/>
<text x="580.60" y="588.40" font-family="Liberation Sans" font-size="13" text-anchor="middle">5</text>
<rect x="594.93" y="595.06" width="14.6" height="7.44" fill="#ff6200" stroke="#3a3a3a" stroke-width="0.9"/>
<text x="602.23" y="591.00" font-family="Liberation Sans" font-size="13" text-anchor="middle">4</text>
<rect x="616.56" y="593.20" width="14.6" height="9.30" fill="#93bff7" stroke="#3a3a3a" stroke-width="0.9"/>
<text x="623.86" y="588.40" font-family="Liberation Sans" font-size="13" text-anchor="middle">5</text>
<rect x="638.19" y="596.92" width="14.6" height="5.58" fill="#0000c2" stroke="#3a3a3a" stroke-width="0.9"/>
<text x="646.99" y="593.00" font-family="Liberation Sans" font-size="13" text-anchor="middle">3</text>
<line x1="57.5" y1="602.95" x2="663.7" y2="602.95" stroke="#595959" stroke-width="1.6"/>
<rect x="140.3" y="371.1" width="13.6" height="13.7" fill="#ffc080"/>
<text x="160.9" y="383.1" font-family="Liberation Sans" font-size="13">WT SpCas9 20G-sgRNA</text>
<rect x="140.3" y="395.1" width="13.6" height="13.7" fill="#ff6200"/>
<text x="160.9" y="407.1" font-family="Liberation Sans" font-size="13">WT SpCas9 21G-sgRNA</text>
<rect x="362.2" y="371.1" width="13.6" height="13.7" fill="#93bff7"/>
<text x="382.8" y="383.1" font-family="Liberation Sans" font-size="13">B-SpCas9 20G-sgRNA</text>
<rect x="362.2" y="395.1" width="13.6" height="13.7" fill="#0000c2"/>
<text x="382.8" y="407.1" font-family="Liberation Sans" font-size="13">B-SpCas9 21G-sgRNA</text>
<text transform="translate(118.6,616.3) rotate(-45)" font-family="Liberation Sans" font-size="15" text-anchor="end"><tspan font-style="italic">DNMT1</tspan> site 4</text>
<text transform="translate(217.9,616.3) rotate(-45)" font-family="Liberation Sans" font-size="15" text-anchor="end"><tspan font-style="italic">EMX1</tspan> site 2</text>
<text transform="translate(319.7,616.3) rotate(-45)" font-family="Liberation Sans" font-size="15" text-anchor="end"><tspan font-style="italic">ZSCAN2</tspan></text>
<text transform="translate(418.6,616.3) rotate(-45)" font-family="Liberation Sans" font-size="15" text-anchor="end">EGFP target site 6</text>
<text transform="translate(517.6,616.3) rotate(-45)" font-family="Liberation Sans" font-size="15" text-anchor="end">EGFP target site 20</text>
<text transform="translate(618.1,616.3) rotate(-45)" font-family="Liberation Sans" font-size="15" text-anchor="end">EGFP target site 21</text>
</svg>
</body></html>
